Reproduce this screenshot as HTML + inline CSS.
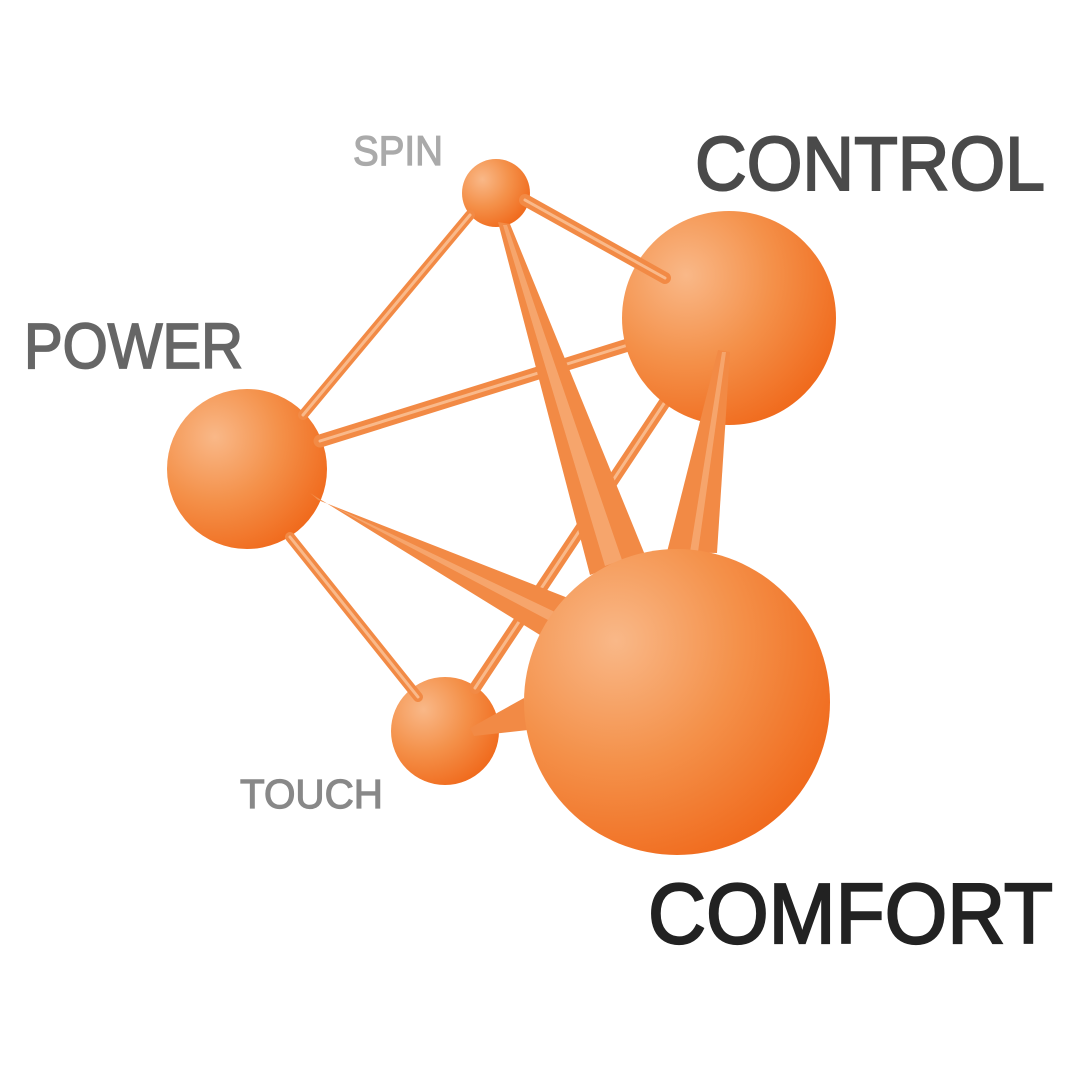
<!DOCTYPE html>
<html><head><meta charset="utf-8"><style>html,body{margin:0;padding:0;background:#fff}svg{display:block}</style></head>
<body>
<svg width="1080" height="1080" viewBox="0 0 1080 1080" xmlns="http://www.w3.org/2000/svg">
<defs>
<radialGradient id="sph" cx="0.3" cy="0.3" r="0.8">
<stop offset="0" stop-color="#f9b888"/>
<stop offset="0.5" stop-color="#f4914a"/>
<stop offset="1" stop-color="#f0681a"/>
</radialGradient>
</defs>
<circle cx="247" cy="469" r="80" fill="url(#sph)"/>
<circle cx="496" cy="193" r="34" fill="url(#sph)"/>
<circle cx="445" cy="731" r="54" fill="url(#sph)"/>
<g stroke-linecap="round">
<line x1="470" y1="215" x2="303" y2="415" stroke="#f28a45" stroke-width="10"/>
<line x1="320" y1="441" x2="628" y2="345" stroke="#f28a45" stroke-width="13"/>
<line x1="665" y1="402" x2="475" y2="688" stroke="#f28a45" stroke-width="12"/>
<line x1="290" y1="537" x2="418" y2="697" stroke="#f28a45" stroke-width="10"/>
<line x1="470" y1="215" x2="303" y2="415" stroke="#f9b98a" stroke-width="3"/>
<line x1="320" y1="441" x2="628" y2="345" stroke="#f9b98a" stroke-width="3"/>
<line x1="665" y1="402" x2="475" y2="688" stroke="#f9b98a" stroke-width="3"/>
<line x1="290" y1="537" x2="418" y2="697" stroke="#f9b98a" stroke-width="3"/>
</g>
<polygon points="498,222 510,224 645,555 590,575" fill="#f28a45"/>
<polygon points="503,225 507,225 622,560 605,566" fill="#f8b07d" opacity="0.7"/>
<circle cx="729" cy="318" r="107" fill="url(#sph)"/>
<g stroke-linecap="round">
<line x1="525" y1="200" x2="665" y2="278" stroke="#f28a45" stroke-width="12"/>
<line x1="525" y1="200" x2="665" y2="278" stroke="#f9b98a" stroke-width="3"/>
</g>
<polygon points="718,350 730,352 717,553 667,552" fill="#f28a45"/>
<polygon points="722,352 726,352 698,552 690,552" fill="#f8b07d" opacity="0.7"/>
<polygon points="310,493 318,500 568,598 540,635" fill="#f28a45"/>
<polygon points="315,497 318,499 555,612 548,620" fill="#f8b07d" opacity="0.7"/>
<polygon points="470,728 474,736 528,730 524,698" fill="#f28a45"/>
<circle cx="677" cy="702" r="153" fill="url(#sph)"/>
<g font-family="Liberation Sans, sans-serif">
<text x="353" y="165" font-size="42" fill="#aaaaaa" stroke="#aaaaaa" stroke-width="1.2" textLength="90" lengthAdjust="spacingAndGlyphs">SPIN</text>
<text x="695" y="190" font-size="76" fill="#4a4a4a" stroke="#4a4a4a" stroke-width="2" textLength="350" lengthAdjust="spacingAndGlyphs">CONTROL</text>
<text x="24" y="368" font-size="64" fill="#666666" stroke="#666666" stroke-width="1.8" textLength="219" lengthAdjust="spacingAndGlyphs">POWER</text>
<text x="240" y="808" font-size="41" fill="#888888" stroke="#888888" stroke-width="1.2" textLength="143" lengthAdjust="spacingAndGlyphs">TOUCH</text>
<text x="648" y="943" font-size="85" fill="#222222" stroke="#222222" stroke-width="2.2" textLength="405" lengthAdjust="spacingAndGlyphs">COMFORT</text>
</g>
</svg>
</body></html>
